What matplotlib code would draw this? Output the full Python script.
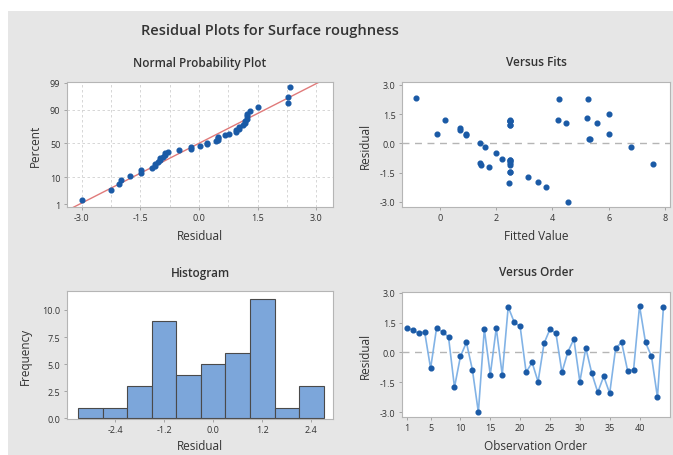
import matplotlib
matplotlib.use("Agg")
import matplotlib.pyplot as plt
import numpy as np
from statistics import NormalDist
from matplotlib.patches import Rectangle

plt.rcParams['font.family'] = ['Open Sans', 'DejaVu Sans']

# residuals in observation order
residuals = [1.22, 1.13, 0.95, 1.03, -0.80, 1.22, 1.03, 0.78, -1.75, -0.20,
             0.50, -0.87, -3.00, 1.17, -1.12, 1.22, -1.12, 2.28, 1.52, 1.30,
             -1.00, -0.50, -1.47, 0.45, 1.17, 0.95, -1.00, 0.03, 0.67, -1.47,
             0.22, -1.05, -2.00, -1.20, -2.05, 0.22, 0.50, -0.92, -0.87, 2.33,
             0.50, -0.20, -2.25, 2.28]
fitted = [0.18, 2.50, 2.50, 5.57, 2.20, 2.50, 4.50, 0.71, 3.12, 1.62,
          -0.10, 2.50, 4.57, 2.50, 1.48, 4.20, 2.50, 4.24, 6.02, 5.24,
          1.42, 1.99, 2.50, 0.93, 2.50, 2.50, 2.50, 1.42, 0.71, 2.50,
          5.30, 7.56, 3.50, 1.75, 2.45, 5.35, 0.93, 2.50, 2.50, -0.83,
          6.00, 6.79, 3.79, 5.27]
order = np.arange(1, len(residuals) + 1)

npp_ticks = [1, 10, 50, 90, 99]
res_ticks = [-3.0, -1.5, 0.0, 1.5, 3.0]
fit_ticks = [0, 2, 4, 6, 8]
hist_xticks = [-2.4, -1.2, 0.0, 1.2, 2.4]
hist_yticks = [0.0, 2.5, 5.0, 7.5, 10.0]
order_ticks = [1, 5, 10, 15, 20, 25, 30, 35, 40]
bin_edges = np.arange(-3.3, 2.71, 0.6)

W, H = 673, 456
dot = '#1a5aa6'
txt = '#333333'
fig = plt.figure(figsize=(W / 100, H / 100), dpi=100, facecolor='white')
fig.patches.append(Rectangle((8 / W, 0), 1, 1 - 12 / H, transform=fig.transFigure,
                             facecolor='#e6e6e6', edgecolor='none', zorder=-10))


def ax_at(l, t, r, b):
    ax = fig.add_axes([l / W, 1 - b / H, (r - l) / W, (b - t) / H])
    ax.set_facecolor('white')
    for s in ax.spines.values():
        s.set_color('#b5b5b5')
        s.set_linewidth(0.8)
    ax.tick_params(length=2.5, width=0.6, color='#9a9a9a', labelsize=6.5,
                   labelcolor=txt, pad=2)
    return ax


def label(x, y, s, size=8.5, rot=0, weight='normal'):
    fig.text(x / W, 1 - y / H, s, ha='center', va='center', fontsize=size,
             rotation=rot, color=txt, fontweight=weight)


label(270, 31, 'Residual Plots for Surface roughness', size=10.5, weight='semibold')

# Normal probability plot
r = np.array(residuals)
n = len(r)
nd = NormalDist()
srt = np.sort(r)
z = np.array([nd.inv_cdf((i - 0.3) / (n + 0.4)) for i in range(1, n + 1)])
ax1 = ax_at(66.7, 83, 333, 208)
for gx in np.arange(-3.0, 3.01, 0.75):
    ax1.axvline(gx, color='#d0d0d0', ls=(0, (3, 3)), lw=0.6, zorder=0)
for gp in [10, 50, 90]:
    ax1.axhline(nd.inv_cdf(gp / 100), color='#d0d0d0', ls=(0, (3, 3)), lw=0.6, zorder=0)
zz = np.linspace(-3, 3, 50)
ax1.plot(r.mean() + r.std(ddof=1) * zz, zz, color='#e07a7a', lw=1.0, zorder=2)
ax1.plot(srt, z, 'o', color=dot, ms=3.4, zorder=3)
ax1.set_xlim(-3.38, 3.43)
ax1.set_ylim(nd.inv_cdf(0.01) - 0.1, nd.inv_cdf(0.99) + 0.02)
ax1.set_xticks(res_ticks)
ax1.set_xticklabels([f'{v:.1f}' for v in res_ticks])
ax1.set_yticks([nd.inv_cdf(p / 100) for p in npp_ticks])
ax1.set_yticklabels([str(p) for p in npp_ticks])
label(200, 63, 'Normal Probability Plot', weight='semibold')
label(200, 236, 'Residual')
label(35, 146, 'Percent', rot=90)

# Versus fits
ax2 = ax_at(401.7, 83, 670, 208)
ax2.axhline(0, color='#b5b5b5', ls=(0, (5, 4)), lw=1.0, zorder=0)
ax2.plot(fitted, residuals, 'o', color=dot, ms=3.4)
ax2.set_xlim(-1.35, 8.18)
ax2.set_ylim(-3.27, 3.15)
ax2.set_xticks(fit_ticks)
ax2.set_yticks(res_ticks)
ax2.set_yticklabels([f'{v:.1f}' for v in res_ticks])
label(536, 63, 'Versus Fits', weight='semibold')
label(536, 236, 'Fitted Value')
label(365, 146, 'Residual', rot=90)

# Histogram
ax3 = ax_at(66.7, 292, 333, 420)
ax3.hist(residuals, bins=bin_edges, color='#7ca6da', edgecolor='#4a4a4a', linewidth=0.8)
ax3.set_xlim(-3.58, 2.93)
ax3.set_ylim(-0.06, 11.75)
ax3.set_xticks(hist_xticks)
ax3.set_xticklabels([f'{v:.1f}' for v in hist_xticks])
ax3.set_yticks(hist_yticks)
ax3.set_yticklabels([f'{v:.1f}' for v in hist_yticks])
label(200, 273, 'Histogram', weight='semibold')
label(200, 447, 'Residual')
label(25, 356, 'Frequency', rot=90)

# Versus order
ax4 = ax_at(401.7, 293, 670, 418)
ax4.axhline(0, color='#b5b5b5', ls=(0, (5, 4)), lw=1.0, zorder=0)
ax4.plot(order, residuals, '-', color='#82b3e6', lw=1.2, zorder=1)
ax4.plot(order, residuals, 'o', color=dot, ms=3.4, zorder=2)
ax4.set_xlim(0.16, 45.1)
ax4.set_ylim(-3.24, 3.03)
ax4.set_xticks(order_ticks)
ax4.set_yticks(res_ticks)
ax4.set_yticklabels([f'{v:.1f}' for v in res_ticks])
label(536, 273, 'Versus Order', weight='semibold')
label(536, 447, 'Observation Order')
label(365, 356, 'Residual', rot=90)

fig.savefig('out.png', dpi=100, facecolor=fig.get_facecolor())
